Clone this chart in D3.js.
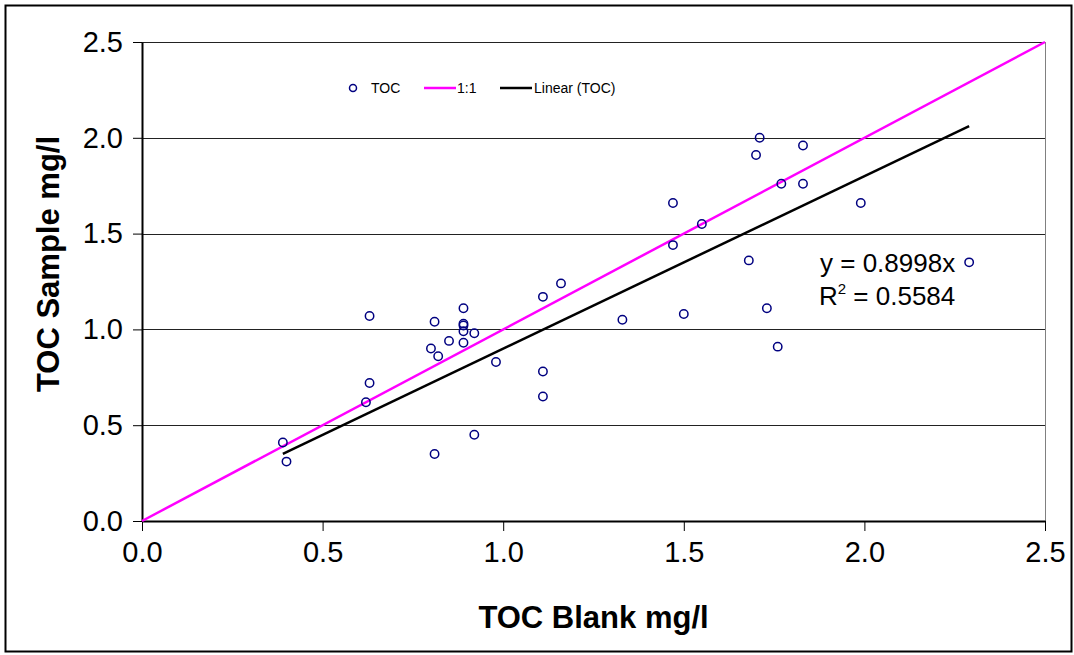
<!DOCTYPE html>
<html>
<head>
<meta charset="utf-8">
<script src="https://d3js.org/d3.v7.min.js"></script>
<style>
  body {margin: 0; background: #fff; font-family: Arial, "Liberation Sans", sans-serif;}
  .axis text {font: 29px Arial, "Liberation Sans", sans-serif; fill: #000;}
  .axis path, .axis line {stroke: #000;}
  .title {font: bold 31px Arial, "Liberation Sans", sans-serif;}
  .legend text {font: 14px Arial, "Liberation Sans", sans-serif;}
  .eq {font: 26px Arial, "Liberation Sans", sans-serif;}
</style>
</head>
<body>
<svg id="chart" width="1074" height="655"></svg>
<script>
// TOC blank vs sample
var blank  = [0.39, 0.40, 0.62, 0.63, 0.63, 0.80, 0.81, 0.81, 0.82, 0.85,
              0.89, 0.89, 0.89, 0.89, 0.89, 0.92, 0.92, 0.98, 1.11, 1.11,
              1.11, 1.16, 1.33, 1.47, 1.47, 1.50, 1.55, 1.68, 1.70, 1.71,
              1.73, 1.76, 1.77, 1.83, 1.83, 1.99, 2.29];
var sample = [0.41, 0.31, 0.62, 0.72, 1.07, 0.90, 1.04, 0.35, 0.86, 0.94,
              1.11, 1.03, 1.02, 0.99, 0.93, 0.98, 0.45, 0.83, 1.17, 0.78,
              0.65, 1.24, 1.05, 1.66, 1.44, 1.08, 1.55, 1.36, 1.91, 2.00,
              1.11, 0.91, 1.76, 1.96, 1.76, 1.66, 1.35];
var xTicks = [0, 0.5, 1.0, 1.5, 2.0, 2.5];
var yTicks = [0, 0.5, 1.0, 1.5, 2.0, 2.5];
var trendSlope = 0.8998;
var trendR2 = 0.5584;
var legendItems = ["TOC", "1:1", "Linear (TOC)"];

var svg = d3.select("#chart");
var margin = {top: 42, right: 29, bottom: 134, left: 142};
var width = 1074 - margin.left - margin.right,
    height = 655 - margin.top - margin.bottom;

// outer frame
svg.append("rect")
  .attr("x", 5.5).attr("y", 5.5)
  .attr("width", 1066).attr("height", 646)
  .attr("fill", "none").attr("stroke", "#000").attr("stroke-width", 2);

var g = svg.append("g").attr("transform", "translate(" + margin.left + "," + margin.top + ")");

var x = d3.scaleLinear().domain([0, 2.5]).range([0, width]);
var y = d3.scaleLinear().domain([0, 2.5]).range([height, 0]);

// gridlines
g.append("g").selectAll("line")
  .data(yTicks.slice(1))
  .enter().append("line")
  .attr("x1", 0).attr("x2", width)
  .attr("y1", function(d) { return Math.round(y(d)) + 0.5; })
  .attr("y2", function(d) { return Math.round(y(d)) + 0.5; })
  .attr("stroke", "#222").attr("stroke-width", 1);

// right border of plot area
g.append("line")
  .attr("x1", width + 0.5).attr("x2", width + 0.5)
  .attr("y1", 0).attr("y2", height)
  .attr("stroke", "#808080").attr("stroke-width", 1);

var fmt = d3.format(".1f");

g.append("g")
  .attr("class", "axis")
  .attr("transform", "translate(0," + height + ")")
  .call(d3.axisBottom(x).tickValues(xTicks).tickFormat(fmt).tickSize(10).tickSizeOuter(0).tickPadding(10))
  .call(function(a) { a.select(".domain").attr("stroke-width", 2); });

g.append("g")
  .attr("class", "axis")
  .call(d3.axisLeft(y).tickValues(yTicks).tickFormat(fmt).tickSize(9).tickSizeOuter(0).tickPadding(10))
  .call(function(a) { a.select(".domain").attr("stroke-width", 2); });

// 1:1 line
g.append("line")
  .attr("x1", x(0)).attr("y1", y(0))
  .attr("x2", x(2.5)).attr("y2", y(2.5))
  .attr("stroke", "#ff00ff").attr("stroke-width", 2.5);

// trendline through origin
var xmin = d3.min(blank), xmax = d3.max(blank);
g.append("line")
  .attr("x1", x(xmin)).attr("y1", y(trendSlope * xmin))
  .attr("x2", x(xmax)).attr("y2", y(trendSlope * xmax))
  .attr("stroke", "#000").attr("stroke-width", 2.5);

// points
g.append("g").selectAll("circle")
  .data(blank.map(function(d, i) { return {x: d, y: sample[i]}; }))
  .enter().append("circle")
  .attr("cx", function(d) { return x(d.x); })
  .attr("cy", function(d) { return y(d.y); })
  .attr("r", 4.2)
  .attr("fill", "none")
  .attr("stroke", "#000080")
  .attr("stroke-width", 1.5);

// equation
var eq = svg.append("g").attr("class", "eq");
eq.append("text").attr("x", 820).attr("y", 272).text("y = " + trendSlope + "x");
var r2 = eq.append("text").attr("x", 819).attr("y", 305);
r2.append("tspan").text("R");
r2.append("tspan").attr("font-size", "15px").attr("dy", -11).text("2");
r2.append("tspan").attr("dy", 11).text(" = " + trendR2);

// legend
var legend = svg.append("g").attr("class", "legend").attr("transform", "translate(0,88)");
legend.append("circle").attr("cx", 353).attr("cy", 0).attr("r", 3.5)
  .attr("fill", "none").attr("stroke", "#000080").attr("stroke-width", 1.5);
legend.append("text").attr("x", 371).attr("y", 5).text(legendItems[0]);
legend.append("line").attr("x1", 424).attr("x2", 456).attr("y1", 0).attr("y2", 0)
  .attr("stroke", "#ff00ff").attr("stroke-width", 2.5);
legend.append("text").attr("x", 457).attr("y", 5).text(legendItems[1]);
legend.append("line").attr("x1", 500).attr("x2", 532).attr("y1", 0).attr("y2", 0)
  .attr("stroke", "#000").attr("stroke-width", 2.5);
legend.append("text").attr("x", 534).attr("y", 5).text(legendItems[2]);

// axis titles
svg.append("text")
  .attr("class", "title")
  .attr("text-anchor", "middle")
  .attr("x", margin.left + width / 2)
  .attr("y", 628)
  .text("TOC Blank mg/l");

svg.append("text")
  .attr("class", "title")
  .attr("text-anchor", "middle")
  .attr("transform", "translate(59,264) rotate(-90)")
  .text("TOC Sample mg/l");
</script>
</body>
</html>
